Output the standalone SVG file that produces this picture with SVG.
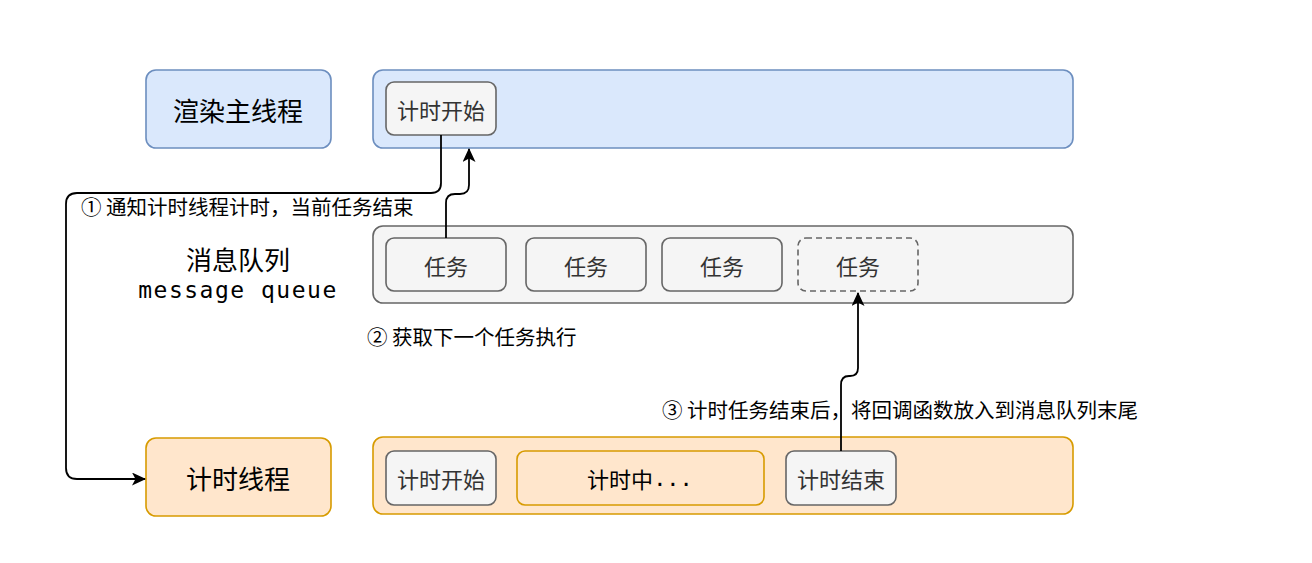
<svg xmlns="http://www.w3.org/2000/svg" width="1312" height="563" viewBox="0 0 1312 563">
<style>
text{font-family:"Noto Sans CJK SC","Noto Sans",sans-serif;dominant-baseline:central;fill:#000}
.blue{fill:#dae8fc;stroke:#6c8ebf;stroke-width:1.6}
.gray{fill:#f5f5f5;stroke:#666666;stroke-width:1.6}
.orange{fill:#ffe6cc;stroke:#d79b00;stroke-width:1.6}
.dash{stroke-dasharray:6 4}
.big{font-size:26px}
.mid{font-size:22px;text-anchor:middle}
.in{fill:#333333}
.lbl{font-size:20.5px;text-anchor:start}
.c{text-anchor:middle}
.edge{fill:none;stroke:#000;stroke-width:1.8}
</style>
<defs>
<marker id="arr" viewBox="0 0 14 13" refX="13" refY="6.5" markerWidth="14" markerHeight="13" markerUnits="userSpaceOnUse" orient="auto">
<path d="M0,0 L14,6.5 L0,13 L3.5,6.5 Z" fill="#000"/>
</marker>
</defs>
<rect width="1312" height="563" fill="#ffffff"/>

<g id="render-thread">
<rect class="blue" x="146" y="70" width="185" height="78" rx="10"/>
<text class="big c" x="238" y="109">渲染主线程</text>
</g>
<g id="render-lane">
<rect class="blue" x="373" y="70" width="700" height="78" rx="10"/>
</g>
<g id="render-timer-start">
<rect class="gray" x="386" y="82" width="110" height="53" rx="8"/>
<text class="mid in" x="441" y="109">计时开始</text>
</g>

<g id="queue-label">
<text class="big c" x="238" y="258">消息队列</text>
<text class="c" x="238" y="290" style="font-family:'DejaVu Sans Mono','Liberation Mono',monospace;font-size:23px;letter-spacing:1.5px">message queue</text>
</g>
<g id="queue-lane">
<rect class="gray" x="373" y="226" width="700" height="77" rx="10"/>
</g>
<g id="task1">
<rect class="gray" x="386" y="238" width="120" height="53" rx="8"/>
<text class="mid in" x="446" y="265">任务</text>
</g>
<g id="task2">
<rect class="gray" x="526" y="238" width="120" height="53" rx="8"/>
<text class="mid in" x="586" y="265">任务</text>
</g>
<g id="task3">
<rect class="gray" x="662" y="238" width="120" height="53" rx="8"/>
<text class="mid in" x="722" y="265">任务</text>
</g>
<g id="task4">
<rect class="gray dash" x="798" y="238" width="120" height="53" rx="8"/>
<text class="mid in" x="858" y="265">任务</text>
</g>

<g id="timer-thread">
<rect class="orange" x="146" y="438" width="185" height="78" rx="10"/>
<text class="big c" x="238" y="477">计时线程</text>
</g>
<g id="timer-lane">
<rect class="orange" x="373" y="437" width="700" height="77" rx="10"/>
</g>
<g id="timer-start">
<rect class="gray" x="386" y="451" width="110" height="54" rx="8"/>
<text class="mid in" x="441" y="478">计时开始</text>
</g>
<g id="timing">
<rect class="orange" x="517" y="451" width="247" height="54" rx="8"/>
<text class="mid" x="640" y="478">计时中<tspan style="font-family:'DejaVu Sans Mono',monospace">...</tspan></text>
</g>
<g id="timer-end">
<rect class="gray" x="786" y="451" width="110" height="54" rx="8"/>
<text class="mid in" x="841" y="478">计时结束</text>
</g>

<g id="connectors">
<path class="edge" d="M441,135 V183 Q441,193 431,193 H77 Q66,193 66,204 V468 Q66,479 77,479 H145" marker-end="url(#arr)"/>
<path class="edge" d="M446,238 V203 Q446,194 455,194 H460 Q469,194 469,185 V149" marker-end="url(#arr)"/>
<path class="edge" d="M841,451 V385 Q841,376 849,376 H850 Q858,376 858,368 V293" marker-end="url(#arr)"/>
<text class="lbl" x="81" y="206">① 通知计时线程计时，当前任务结束</text>
<text class="lbl" x="367" y="336">② 获取下一个任务执行</text>
<text class="lbl" x="662" y="409">③ 计时任务结束后，将回调函数放入到消息队列末尾</text>
</g>
</svg>
